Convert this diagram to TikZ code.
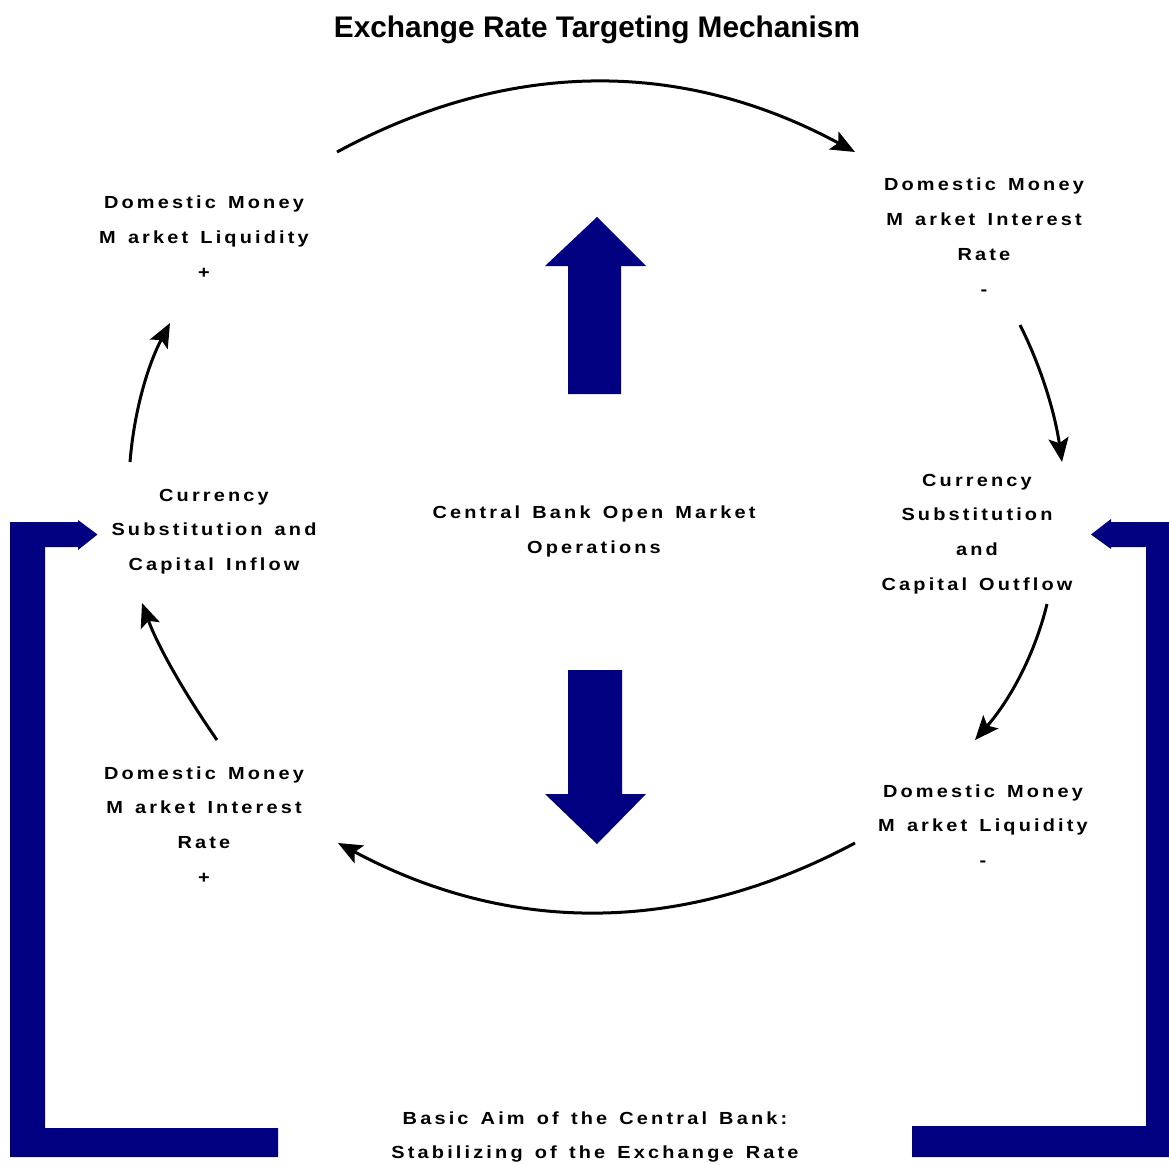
\documentclass[tikz,border=0pt]{standalone}
\usepackage{fontspec}
\setmainfont{Liberation Sans}
\newfontfamily\spacedfont[LetterSpace=18,FakeStretch=1.14,WordSpace=1.4]{Liberation Sans}
\usetikzlibrary{arrows.meta}
\definecolor{navyblue}{RGB}{0,0,128}
\begin{document}
\begin{tikzpicture}[x=1pt,y=-1pt,
  lbl/.style={font=\spacedfont\bfseries\fontsize{17.5}{34.8}\selectfont, align=center, inner sep=0pt},
  cyc/.style={line width=3pt, -{Stealth[length=24pt,width=20pt,inset=5pt]}},
  blockshape/.style={fill=navyblue, draw=none}]
\useasboundingbox (0,0) rectangle (1169,1164);

% title
\node[inner sep=0pt, font=\bfseries\fontsize{29.8}{34}\selectfont] (title) at (597,30) {Exchange Rate Targeting Mechanism};

% text blocks
\node[lbl] (ltop) at (204,237) {Domestic Money\\M arket Liquidity\\+};
\node[lbl] (rtop) at (984,236.5) {Domestic Money\\M arket Interest\\Rate\\-};
\node[lbl] (lmid) at (214,531.5) {Currency\\Substitution and\\Capital Inflow};
\node[lbl] (rmid) at (977,534) {Currency\\Substitution\\and\\Capital Outflow};
\node[lbl] (center) at (594,531.5) {Central Bank Open Market\\Operations};
\node[lbl] (lbot) at (204,825) {Domestic Money\\M arket Interest\\Rate\\+};
\node[lbl] (rbot) at (983,825.5) {Domestic Money\\M arket Liquidity\\-};
\node[lbl] (aim) at (595,1137) {Basic Aim of the Central Bank:\\Stabilizing of the Exchange Rate};

% arc end points
\coordinate (a1s) at (337,152);  \coordinate (a1e) at (855,152);
\coordinate (a2s) at (1020,325); \coordinate (a2e) at (1062,462);
\coordinate (a3s) at (1047,604); \coordinate (a3e) at (975,740);
\coordinate (a4s) at (855,843);  \coordinate (a4e) at (338,843);
\coordinate (a5s) at (217,740);  \coordinate (a5e) at (142,603);
\coordinate (a6s) at (130,462);  \coordinate (a6e) at (170,323);

% cycle arrows
\draw[cyc] (a1s) .. controls (509.7,58.7) and (682.3,58.7) .. (a1e);
\draw[cyc] (a2s) .. controls (1040.7,366) and (1054.7,411.7) .. (a2e);
\draw[cyc] (a3s) .. controls (1035,653.3) and (1011,698.7) .. (a3e);
\draw[cyc] (a4s) .. controls (682.7,935) and (510.3,935) .. (a4e);
\draw[cyc] (a5s) .. controls (182,689.7) and (157,644) .. (a5e);
\draw[cyc] (a6s) .. controls (134,412.3) and (147.3,366) .. (a6e);

% central block arrows
\fill[blockshape] (568,394) -- (568,266) -- (545,266) -- (597,217) -- (646,266) -- (621,266) -- (621,394) -- cycle;
\fill[blockshape] (568,670) -- (622,670) -- (622,794) -- (646,794) -- (597,844) -- (545,794) -- (568,794) -- cycle;

% feedback brackets
\fill[blockshape] (10,1157) -- (10,522) -- (78,522) -- (78,520) -- (97.5,534.5) -- (78,550) -- (78,547) -- (45,547) -- (45,1128) -- (278,1128) -- (278,1157) -- cycle;
\fill[blockshape] (1169,1157) -- (1169,522) -- (1111,522) -- (1111,519) -- (1091,534.5) -- (1111,549) -- (1111,547) -- (1146,547) -- (1146,1126) -- (912,1126) -- (912,1157) -- cycle;
\end{tikzpicture}
\end{document}
